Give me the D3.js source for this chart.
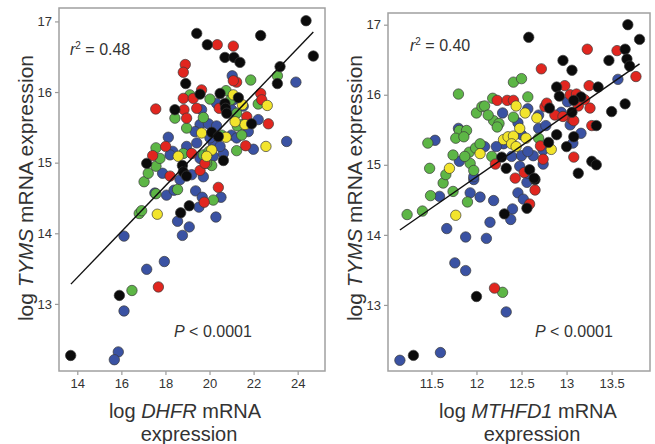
<!DOCTYPE html>
<html><head><meta charset="utf-8">
<script src="https://cdn.jsdelivr.net/npm/d3@7"></script>
<style>
body{margin:0;background:#fff;}
svg{display:block;font-family:"Liberation Sans",Arial,sans-serif;}
</style></head>
<body><svg id="c" width="655" height="444"></svg>
<script>
// ---------- DATA ----------
// Left panel: log DHFR (x) vs log TYMS (y)
const dhfrBlack = [[13.70,12.27],[15.91,13.12],[19.42,16.83],[19.90,16.67],[22.32,16.80],[24.38,17.01],[24.71,16.51],[20.70,16.49],[21.11,16.49],[21.38,16.42],[18.92,16.12],[23.20,16.36],[23.08,16.12],[19.57,15.97],[20.48,15.98],[21.31,15.92],[18.43,15.75],[20.70,15.84],[20.73,15.77],[20.78,15.70],[21.91,15.55],[20.10,15.43],[20.40,15.37],[17.15,14.99],[18.77,14.96],[18.81,14.87],[18.96,14.81],[20.63,15.03],[18.69,14.29],[19.08,14.39]];
const dhfrRed = [[17.68,13.24],[20.40,14.65],[19.76,14.44],[20.35,16.67],[21.08,16.65],[18.90,16.39],[18.81,16.28],[21.23,16.14],[21.08,16.16],[19.64,16.03],[18.81,15.91],[19.26,15.91],[22.32,15.98],[22.37,15.89],[17.56,15.76],[18.84,15.75],[19.42,15.77],[20.44,15.77],[18.96,15.63],[21.69,15.65],[22.67,15.55],[21.64,15.24],[18.01,15.23],[19.19,15.13],[17.42,15.10],[18.21,14.81],[19.57,14.89],[19.79,14.99]];
const dhfrGreen = [[16.48,13.19],[16.81,14.28],[16.92,14.32],[17.57,14.56],[18.55,14.62],[17.03,14.73],[20.17,14.47],[21.87,16.17],[23.08,16.23],[19.11,15.96],[20.02,15.90],[20.75,16.02],[22.21,15.83],[18.43,15.63],[19.72,15.64],[21.23,15.70],[21.49,15.54],[21.46,15.39],[21.23,15.17],[17.57,15.21],[18.81,15.13],[19.72,15.11],[17.57,14.95],[17.22,14.85],[20.10,14.96],[17.75,15.06],[19.87,14.99],[21.26,15.52],[20.55,15.39],[18.96,15.49],[19.98,15.16],[20.96,15.89]];
const dhfrBlue = [[16.12,13.96],[17.15,13.49],[17.95,13.60],[16.12,12.90],[15.86,12.32],[15.68,12.21],[18.55,14.17],[19.08,14.09],[18.77,13.97],[20.29,14.23],[18.05,14.54],[18.39,14.61],[19.37,14.60],[19.67,14.51],[19.52,14.37],[20.52,14.51],[17.52,14.57],[21.03,16.23],[23.92,16.14],[23.50,15.30],[21.99,15.19],[19.64,15.75],[21.53,15.80],[22.21,15.61],[19.57,15.54],[19.95,15.55],[20.32,15.52],[18.13,15.36],[19.34,15.44],[21.00,15.39],[21.23,15.35],[19.42,15.28],[20.17,15.27],[18.33,15.16],[20.63,15.13],[17.87,14.85],[18.66,14.76],[18.21,15.11],[19.57,15.06],[19.19,14.83],[19.72,14.80],[21.08,15.89],[20.48,15.23],[18.96,15.23],[20.17,15.09],[21.00,15.75],[21.76,15.44],[20.02,15.35],[20.32,15.84]];
const dhfrYellow = [[17.63,14.27],[22.62,15.81],[22.56,15.23],[21.08,15.96],[19.64,15.42],[20.75,15.36],[20.10,15.18],[18.58,15.09],[21.61,15.54],[21.16,15.58],[19.87,15.09],[21.49,15.82]];
const dhfrFit = [[13.71,13.28],[24.71,16.85]];
const dhfrTicks = [14,16,18,20,22,24];

// Right panel: log MTHFD1 (x) vs log TYMS (y)
const mthBlack = [[11.30,12.28],[12.00,13.12],[12.31,14.30],[12.56,14.38],[12.65,14.79],[12.58,16.82],[13.68,17.00],[13.81,16.79],[13.65,16.65],[13.67,16.51],[13.70,16.41],[13.47,16.49],[12.96,16.49],[13.06,16.35],[12.89,16.11],[12.92,15.98],[13.35,16.11],[13.65,15.87],[13.50,15.76],[13.16,15.97],[13.06,15.75],[12.81,15.81],[13.33,15.56],[12.89,15.43],[13.08,15.40],[13.00,15.26],[13.28,15.05],[13.33,15.00],[13.13,14.88],[12.28,15.11],[12.80,15.32],[12.33,14.95],[12.59,14.93],[12.64,14.81],[13.08,15.92]];
const mthRed = [[12.20,13.24],[12.59,14.44],[12.65,14.64],[13.23,16.65],[13.56,16.63],[12.72,16.37],[13.77,16.26],[13.25,16.13],[12.98,16.13],[13.04,16.00],[13.11,16.01],[13.20,15.93],[13.26,15.81],[13.06,15.65],[13.08,15.63],[13.28,15.56],[12.23,15.92],[12.34,15.92],[12.41,15.92],[12.76,15.83],[12.78,15.88],[13.08,15.11],[12.71,15.27],[12.74,15.08],[12.21,15.01],[12.43,14.81],[12.53,14.89],[12.87,15.71],[12.96,15.69],[13.13,15.84]];
const mthGreen = [[12.29,13.18],[11.23,14.29],[11.40,14.34],[11.49,14.56],[11.74,14.62],[11.63,14.74],[11.90,14.47],[12.41,16.18],[12.50,16.23],[11.80,16.01],[12.18,15.95],[12.57,15.97],[12.00,15.74],[12.06,15.83],[12.09,15.84],[12.19,15.63],[12.25,15.59],[12.23,15.54],[12.41,15.68],[11.81,15.49],[11.89,15.49],[11.77,15.38],[11.86,15.40],[11.46,15.31],[11.48,14.95],[11.92,15.18],[11.99,15.24],[12.04,15.30],[12.17,15.12],[11.93,15.02],[11.66,14.86],[11.87,15.12],[12.69,15.38],[12.13,15.71],[11.97,14.92],[11.74,15.14]];
const mthBlue = [[11.15,12.21],[11.60,12.32],[12.33,12.90],[11.76,13.60],[11.88,13.49],[11.67,14.09],[11.88,13.97],[12.11,13.95],[11.59,14.55],[11.93,14.60],[12.04,14.54],[12.19,14.49],[12.15,14.18],[12.38,14.22],[12.40,14.37],[12.46,14.60],[12.52,14.51],[12.56,14.75],[11.97,14.79],[13.57,16.22],[13.01,15.90],[12.94,15.75],[13.04,15.57],[12.57,15.80],[12.69,15.71],[12.29,15.74],[12.46,15.60],[12.69,15.52],[12.77,15.56],[13.16,15.45],[11.80,15.52],[11.54,15.35],[12.09,15.26],[12.39,15.12],[12.50,15.13],[12.63,15.13],[12.74,15.01],[11.81,15.05],[11.97,14.83],[12.57,15.19],[12.74,15.21],[13.07,15.31],[12.50,15.43],[12.57,14.88],[12.30,15.30],[12.22,15.26],[12.48,14.98]];
const mthYellow = [[11.77,14.28],[11.70,14.95],[12.44,15.84],[12.54,15.74],[12.67,15.67],[12.48,15.52],[12.30,15.36],[12.35,15.40],[12.41,15.41],[12.39,15.30],[12.44,15.26],[12.04,15.16],[12.83,15.22],[12.55,15.38]];
const mthFit = [[11.15,14.07],[13.81,16.44]];
const mthTicks = [11.5,12,12.5,13,13.5];

const tymsTicks = [13,14,15,16,17];

const colors = {blue:"#3a52a3", green:"#5db646", red:"#e1261f", yellow:"#f2e42c", black:"#0b0b0b"};

// ---------- DRAW ----------
const svg = d3.select("#c");
const panels = [
  {frame:{x0:59,x1:325,y0:8,y1:371}, xDom:[13.17,25.24], yDom:[12.05,17.19], xTicks:dhfrTicks, fmt:d3.format("d"),
   series:[["blue",dhfrBlue],["green",dhfrGreen],["red",dhfrRed],["yellow",dhfrYellow],["black",dhfrBlack]],
   fit:dhfrFit, r2:"0.48", r2x:70, r2y:55, px:174, py:337, gene:"DHFR", ytx:25, xtx:185},
  {frame:{x0:388,x1:650,y0:13,y1:371}, xDom:[11.018,13.926], yDom:[12.057,17.167], xTicks:mthTicks, fmt:d => String(d),
   series:[["blue",mthBlue],["green",mthGreen],["red",mthRed],["yellow",mthYellow],["black",mthBlack]],
   fit:mthFit, r2:"0.40", r2x:410, r2y:51, px:535, py:337, gene:"MTHFD1", ytx:354, xtx:528}
];

panels.forEach(p => {
  const f = p.frame;
  const x = d3.scaleLinear().domain(p.xDom).range([f.x0, f.x1]);
  const y = d3.scaleLinear().domain(p.yDom).range([f.y1, f.y0]);
  const g = svg.append("g");

  // axes
  const xa = g.append("g").attr("transform",`translate(0,${f.y1})`)
    .call(d3.axisBottom(x).tickValues(p.xTicks).tickFormat(p.fmt).tickSize(4).tickPadding(4));
  const ya = g.append("g").attr("transform",`translate(${f.x0},0)`)
    .call(d3.axisLeft(y).tickValues(tymsTicks).tickFormat(d3.format("d")).tickSize(4).tickPadding(3));
  [xa,ya].forEach(a => {
    a.select(".domain").remove();
    a.selectAll(".tick line").attr("stroke","#9a9a9a").attr("stroke-width",1.2);
    a.selectAll(".tick text").attr("fill","#333").style("font-size","13px").style("font-family","'Liberation Sans',Arial,sans-serif");
  });

  // frame
  g.append("rect").attr("x",f.x0).attr("y",f.y0).attr("width",f.x1-f.x0).attr("height",f.y1-f.y0)
    .attr("fill","none").attr("stroke","#a0a0a0").attr("stroke-width",1.5);

  // points
  p.series.forEach(([c,data]) => {
    g.append("g").selectAll("circle").data(data).join("circle")
      .attr("cx",d=>x(d[0])).attr("cy",d=>y(d[1])).attr("r",5.2)
      .attr("fill",colors[c]).attr("stroke","#3a3a3a").attr("stroke-width",0.7);
  });

  // fit line
  g.append("line").attr("x1",x(p.fit[0][0])).attr("y1",y(p.fit[0][1]))
    .attr("x2",x(p.fit[1][0])).attr("y2",y(p.fit[1][1]))
    .attr("stroke","#111").attr("stroke-width",1.4);

  // annotations
  const r2 = g.append("text").attr("x",p.r2x).attr("y",p.r2y).attr("fill","#333").style("font-size","16px");
  r2.append("tspan").attr("font-style","italic").text("r");
  r2.append("tspan").attr("dy",-6).style("font-size","10px").text("2");
  r2.append("tspan").attr("dy",6).text(" = " + p.r2);

  const pt = g.append("text").attr("x",p.px).attr("y",p.py).attr("fill","#333").style("font-size","16px");
  pt.append("tspan").attr("font-style","italic").text("P");
  pt.append("tspan").text(" < 0.0001");

  // y title
  const yt = g.append("text").attr("transform",`translate(${p.ytx},188) rotate(-90)`)
    .attr("text-anchor","middle").attr("dominant-baseline","central").attr("fill","#333").style("font-size","21px");
  yt.append("tspan").text("log ");
  yt.append("tspan").attr("font-style","italic").text("TYMS");
  yt.append("tspan").text(" mRNA expression");

  // x title (two lines)
  const xt = g.append("text").attr("x",p.xtx).attr("y",418).attr("text-anchor","middle").attr("fill","#333").style("font-size","20px");
  xt.append("tspan").text("log ");
  xt.append("tspan").attr("font-style","italic").text(p.gene);
  xt.append("tspan").text(" mRNA");
  g.append("text").attr("x",p.xtx+4).attr("y",441).attr("text-anchor","middle").attr("fill","#333").style("font-size","20px").text("expression");
});
</script></body></html>
